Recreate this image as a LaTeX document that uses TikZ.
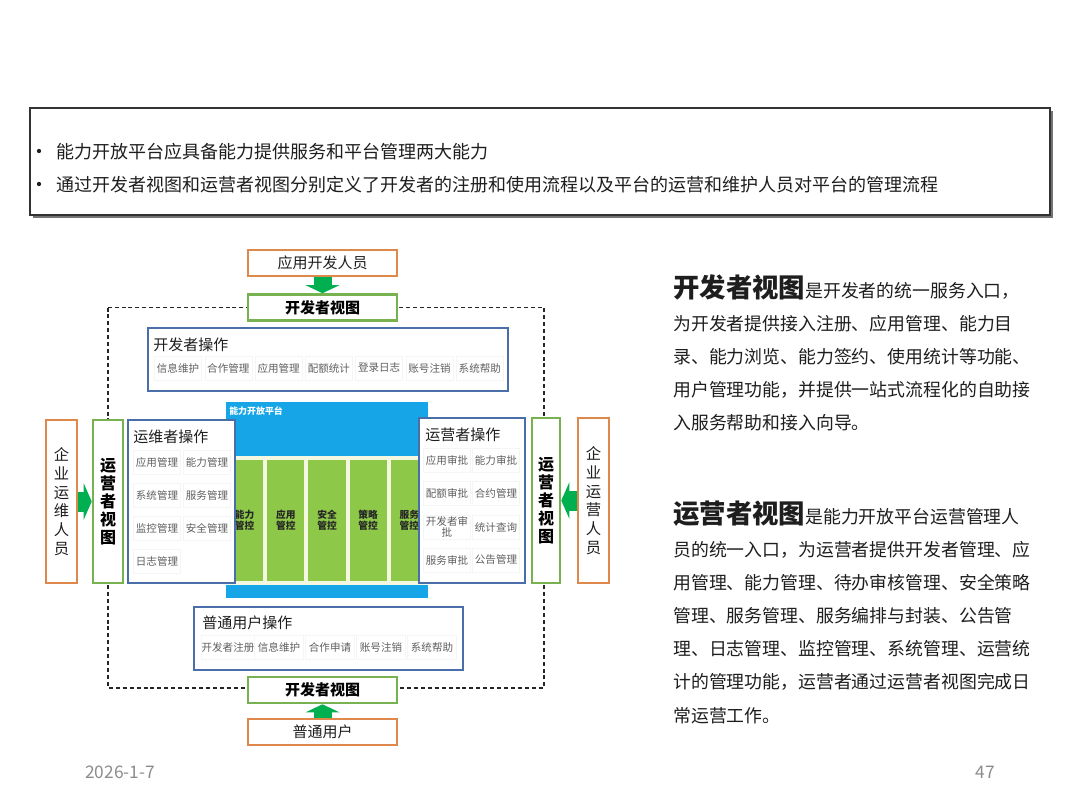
\documentclass[tikz,border=0pt]{standalone}
\usepackage{fontspec}
\setmainfont{Noto Sans CJK SC}
\usetikzlibrary{arrows.meta}
\definecolor{boxblue}{RGB}{74,110,170}
\definecolor{viewgreen}{RGB}{120,178,80}
\definecolor{roleorange}{RGB}{222,136,76}
\definecolor{platblue}{RGB}{22,166,232}
\definecolor{colgreen}{RGB}{141,200,72}
\definecolor{cream}{RGB}{245,248,225}
\definecolor{arrowgreen}{RGB}{0,176,80}
\definecolor{itemgray}{RGB}{95,95,95}
\definecolor{footgray}{RGB}{140,140,140}
\definecolor{textdark}{RGB}{30,30,30}
\tikzset{
  sz/.style 2 args={minimum width=#1*0.75pt, minimum height=#2*0.75pt},
  opsbox/.style={draw=boxblue, line width=1.9pt, fill=white, inner sep=0pt},
  viewbox/.style={draw=viewgreen, line width=1.9pt, fill=white, inner sep=0pt, text=black,
    font=\fontsize{11.25}{13}\selectfont\bfseries, align=center},
  rolebox/.style={draw=roleorange, line width=1.9pt, fill=white, inner sep=0pt, text=textdark,
    font=\fontsize{11.25}{13}\selectfont, align=center},
  item/.style={draw=black!4, line width=0.4pt, fill=white, text=itemgray,
    font=\fontsize{7.9}{8.6}\selectfont, inner sep=0pt, sz={47}{24}, align=center},
  optitle/.style={anchor=west, font=\fontsize{11.25}{13}\selectfont, text=textdark, inner sep=0pt},
  colbox/.style={fill=colgreen, inner sep=0pt, sz={37.2}{121}, text=black!85,
    font=\fontsize{7.3}{8.6}\selectfont\bfseries, align=center},
  varrow/.style={draw=arrowgreen, line width=13.5pt, -{Triangle[length=6pt, width=25pt]}},
  harrow/.style={draw=arrowgreen, line width=15pt, -{Triangle[length=6pt, width=27pt]}},
  intro/.style={anchor=base west, inner sep=0pt, text=textdark, font=\fontsize{13.5}{16}\selectfont},
  bullet/.style={circle, fill=textdark, inner sep=0pt, minimum size=3.2pt},
  body/.style={anchor=base west, inner sep=0pt, text=textdark, font=\fontsize{13.4}{16}\selectfont},
  foot/.style={inner sep=0pt, text=footgray, font=\fontsize{13}{15}\selectfont}
}
\begin{document}
\begin{tikzpicture}[x=0.75pt, y=-0.75pt]
\useasboundingbox (0,0) rectangle (1080,810);
\fill[white] (0,0) rectangle (1080,810);

% intro box
\fill[black!55] (33,111) rectangle (1053,218);
\node[draw=black!80, line width=0.8pt, fill=white, sz={1020}{107}, inner sep=0pt] (introbox) at (540,161.5) {};
\node[bullet] (b1) at (39,151) {};
\node[bullet] (b2) at (39,184) {};
\node[intro] (t1) at (56,158) {能力开放平台应具备能力提供服务和平台管理两大能力};
\node[intro] (t2) at (56,191) {通过开发者视图和运营者视图分别定义了开发者的注册和使用流程以及平台的运营和维护人员对平台的管理流程};

% dashed frame
\draw[black!85, line width=0.9pt, dash pattern=on 3pt off 2.2pt] (108,307.5) rectangle (544,688);

% platform
\node[fill=platblue, inner sep=0pt, sz={202}{196}] (plat) at (327,500) {};
\fill[cream] (226,456) rectangle (428,585);
\node[anchor=west, inner sep=0pt, text=white, font=\fontsize{6.7}{8}\selectfont\bfseries] (platlabel) at (229,411) {能力开放平台};
\foreach \lab [count=\i from 0] in {能力,应用,安全,策略,服务}{
  \node[colbox, name=col\i] at ({244.6+41.2*\i},520.5) {\lab\\管控};
}

% developer operations (top)
\node[opsbox, sz={360}{63}] (devops) at (328,359.5) {};
\node[optitle] (devopst) at (153,345) {开发者操作};
\foreach \lab [count=\i from 0] in {信息维护,合作管理,应用管理,配额统计,登录日志,账号注销,系统帮助}{
  \node[item, name=dv\i] at ({178+50.3*\i},368) {\lab};
}

% maintenance operations (left)
\node[opsbox, sz={107}{163}] (mtops) at (181.5,501.5) {};
\node[optitle] (mtopst) at (133,437) {运维者操作};
\node[item] (mt1) at (157,462) {应用管理};
\node[item] (mt2) at (207,462) {能力管理};
\node[item] (mt3) at (157,495) {系统管理};
\node[item] (mt4) at (207,495) {服务管理};
\node[item] (mt5) at (157,528) {监控管理};
\node[item] (mt6) at (207,528) {安全管理};
\node[item] (mt7) at (157,561) {日志管理};

% operator operations (right)
\node[opsbox, sz={106}{165}] (opops) at (472,500.5) {};
\node[optitle] (opopst) at (425,435) {运营者操作};
\node[item] (op1) at (447,460) {应用审批};
\node[item] (op2) at (496,460) {能力审批};
\node[item] (op3) at (447,493) {配额审批};
\node[item] (op4) at (496,493) {合约管理};
\node[item, font=\fontsize{7.9}{8.2}\selectfont] (op5) at (447,527) {开发者审\\批};
\node[item] (op6) at (496,527) {统计查询};
\node[item] (op7) at (447,560) {服务审批};
\node[item] (op8) at (496,560) {公告管理};

% common user operations (bottom)
\node[opsbox, sz={269}{63}] (usops) at (328.5,638.5) {};
\node[optitle] (usopst) at (202,623) {普通用户操作};
\foreach \lab [count=\i from 0] in {开发者注册,信息维护,合作申请,账号注销,系统帮助}{
  \node[item, sz={49}{24}, name=us\i] at ({228+51*\i},647) {\lab};
}

% views and roles
\node[rolebox, sz={149}{26}] (appdev) at (322.5,263) {应用开发人员};
\node[viewbox, sz={149}{26}] (dvtop) at (322.5,307.5) {开发者视图};
\node[viewbox, sz={149}{26}] (dvbot) at (322.5,690) {开发者视图};
\node[rolebox, sz={149}{26}] (user) at (322.5,732) {普通用户};

\node[viewbox, sz={30}{163}, font=\fontsize{12}{13.5}\selectfont\bfseries] (opvl) at (108,501.5) {运\\营\\者\\视\\图};
\node[rolebox, sz={31}{163}, font=\fontsize{11.5}{14}\selectfont] (mtrole) at (61.5,501.5) {企\\业\\运\\维\\人\\员};
\node[viewbox, sz={28}{165}, font=\fontsize{12}{13.5}\selectfont\bfseries] (opvr) at (546,500.5) {运\\营\\者\\视\\图};
\node[rolebox, sz={31}{165}, font=\fontsize{11.5}{14}\selectfont] (oprole) at (593.5,500.5) {企\\业\\运\\营\\人\\员};

% arrows
\draw[varrow] (appdev.south) -- (dvtop.north);
\draw[varrow] (user.north) -- (dvbot.south);
\draw[harrow] (mtrole.east) -- (opvl.west);
\draw[harrow] (oprole.west) -- (opvr.east);

% right-hand description
\node[body] (d0) at (673,297) {{\fontsize{19.8}{24}\selectfont\bfseries 开发者视图}是开发者的统一服务入口，};
\foreach \t [count=\i] in {{为开发者提供接入注册、应用管理、能力目},{录、能力浏览、能力签约、使用统计等功能、},{用户管理功能，并提供一站式流程化的自助接},{入服务帮助和接入向导。}}{
  \node[body, name=d\i] at (673,{297+33*\i}) {\t};
}
\node[body] (e0) at (673,523) {{\fontsize{19.8}{24}\selectfont\bfseries 运营者视图}是能力开放平台运营管理人};
\foreach \t [count=\i] in {{员的统一入口，为运营者提供开发者管理、应},{用管理、能力管理、待办审核管理、安全策略},{管理、服务管理、服务编排与封装、公告管},{理、日志管理、监控管理、系统管理、运营统},{计的管理功能，运营者通过运营者视图完成日},{常运营工作。}}{
  \node[body, name=e\i] at (673,{523+33.17*\i}) {\t};
}

% footer
\node[foot, anchor=west] (date) at (85,772) {2026-1-7};
\node[foot] (page) at (985,772) {47};
\end{tikzpicture}
\end{document}
